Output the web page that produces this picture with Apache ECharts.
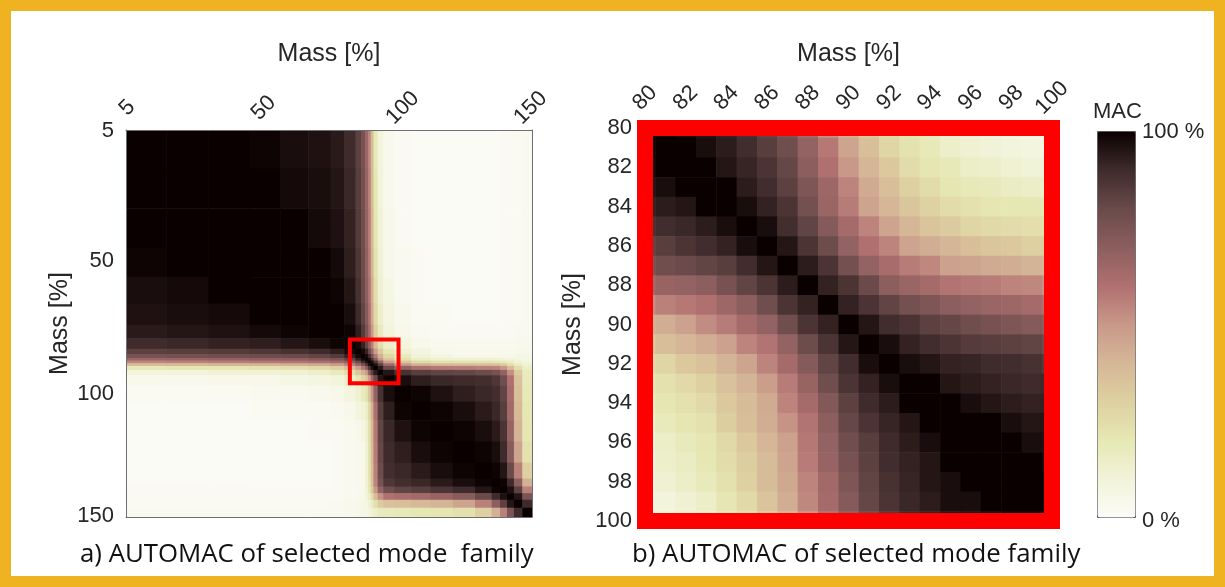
<!DOCTYPE html>
<html>
<head>
<meta charset="utf-8">
<script src="https://cdn.jsdelivr.net/npm/echarts@6/dist/echarts.min.js"></script>
<style>
  html, body { margin: 0; padding: 0; background: #fff; }
  #chart { width: 1225px; height: 587px; }
</style>
</head>
<body>
<div id="chart"></div>
<script>
// ---- colour scale (MAC 0 -> 1) ----
var macColors = ['#fcfcf8', '#f1f3d9', '#e6e8b4', '#ded0a0', '#d5b797', '#c89888',
                 '#b07070', '#8c5e5e', '#6a4a4a', '#3f2b2b', '#0a0000'];

// ---- a) full AUTOMAC, sampled in bands along the mode index (symmetric) ----
var leftTickPos = [1, 50, 100, 146];
var leftTickText = ['5', '50', '100', '150'];
var leftBandEdges = [0.5, 15, 30, 45, 56, 66, 74, 79, 83, 85, 86.5, 87.5, 88.5, 89.5, 91,
                     93, 97, 103, 110, 118, 126, 132, 135, 137.5, 140, 143, 146.5];
// upper triangle: row a holds the values for bands a..end
var leftMacUpper = [
  [1, 1, 1, .99, .97, .96, .94, .90, .83, .76, .66, .55, .38, .19, .09, .04, .02, .01, .01, .01, .01, .01, .02, .02, .02, .03],
  [1, 1, 1, .98, .97, .95, .91, .84, .77, .67, .56, .39, .20, .09, .04, .02, .01, .01, .01, .01, .01, .02, .02, .02, .03],
  [1, 1, 1, .98, .96, .92, .85, .78, .68, .57, .40, .21, .10, .05, .02, .01, .01, .01, .01, .01, .02, .02, .02, .03],
  [1, 1, 1, .98, .93, .86, .79, .69, .58, .41, .22, .11, .05, .03, .02, .01, .01, .01, .01, .02, .02, .02, .03],
  [1, 1, .99, .95, .88, .80, .70, .59, .43, .24, .12, .06, .03, .02, .01, .01, .01, .01, .02, .02, .02, .03],
  [1, 1, .97, .90, .82, .72, .61, .45, .26, .14, .07, .04, .02, .02, .01, .01, .01, .02, .02, .02, .03],
  [1, .99, .93, .85, .75, .64, .49, .30, .17, .09, .05, .03, .02, .02, .02, .02, .02, .02, .03, .03],
  [1, .98, .92, .82, .70, .56, .38, .24, .14, .08, .05, .03, .03, .03, .03, .03, .03, .04, .04],
  [1, .98, .92, .80, .66, .48, .33, .21, .12, .08, .05, .04, .04, .04, .04, .04, .05, .05],
  [1, .98, .90, .76, .58, .42, .28, .17, .10, .07, .05, .05, .05, .05, .05, .06, .06],
  [1, .97, .87, .70, .50, .34, .22, .15, .12, .11, .11, .11, .10, .09, .07, .06],
  [1, .97, .86, .68, .48, .34, .26, .23, .22, .22, .21, .19, .15, .11, .08],
  [1, .96, .83, .64, .50, .42, .39, .38, .37, .36, .32, .24, .16, .11],
  [1, .94, .80, .68, .61, .58, .57, .56, .55, .50, .38, .24, .14],
  [1, .95, .88, .84, .82, .81, .79, .76, .68, .52, .32, .17],
  [1, .97, .93, .91, .90, .89, .86, .78, .60, .36, .18],
  [1, .99, .96, .93, .91, .89, .82, .62, .37, .19],
  [1, .99, .97, .94, .91, .84, .64, .39, .20],
  [1, .99, .97, .94, .87, .67, .41, .21],
  [1, .99, .97, .90, .71, .46, .23],
  [1, .99, .95, .80, .56, .30],
  [1, .99, .90, .70, .42],
  [1, .96, .83, .56],
  [1, .95, .75],
  [1, .90],
  [1]
];
// red marker of the zoomed region, in mode-index units [x0, x1, y0, y1]
var leftZoomBox = [81, 98.5, 79.5, 96];

// ---- b) zoom 80 % .. 100 % ----
var zoomMass = [80, 81, 82, 83, 84, 85, 86, 87, 88, 89, 90, 91, 92, 93, 94, 95, 96, 97, 98, 99, 100];
var zoomMac = [
  [1, 1, .98, .95, .92, .88, .82, .75, .64, .52, .42, .32, .25, .20, .16, .12, .10, .08, .07, .06, .05],
  [1, 1, 1, .97, .935, .895, .84, .78, .68, .58, .46, .37, .28, .22, .19, .14, .12, .10, .09, .08, .07],
  [.98, 1, 1, 1, .95, .915, .87, .81, .70, .60, .50, .40, .33, .25, .21, .19, .15, .14, .12, .10, .10],
  [.95, .97, 1, 1, 1, .935, .895, .83, .74, .65, .55, .44, .37, .30, .25, .21, .19, .18, .16, .15, .13],
  [.92, .935, .95, 1, 1, .97, .92, .87, .77, .66, .57, .46, .40, .34, .29, .25, .23, .21, .20, .20, .18],
  [.88, .895, .91, .935, .97, 1, .97, .89, .82, .72, .63, .55, .46, .40, .35, .32, .28, .26, .25, .24, .23],
  [.82, .84, .87, .895, .92, .97, 1, .95, .87, .79, .68, .60, .55, .46, .43, .40, .37, .34, .33, .30, .31],
  [.75, .78, .80, .82, .84, .895, .95, 1, .935, .87, .77, .68, .62, .57, .54, .47, .46, .44, .43, .41, .40],
  [.64, .67, .68, .70, .76, .82, .87, .935, 1, .92, .87, .80, .70, .66, .63, .59, .58, .57, .55, .54, .51],
  [.52, .56, .58, .60, .65, .70, .78, .87, .92, 1, .92, .87, .82, .77, .74, .70, .68, .66, .65, .63, .60],
  [.42, .43, .47, .53, .57, .63, .68, .78, .87, .92, 1, .95, .895, .87, .83, .81, .78, .76, .74, .72, .70],
  [.32, .37, .40, .43, .47, .55, .59, .68, .79, .87, .95, 1, .97, .92, .895, .87, .85, .84, .83, .82, .79],
  [.25, .28, .33, .36, .41, .46, .55, .63, .72, .82, .895, .97, 1, .97, .95, .92, .915, .90, .895, .88, .85],
  [.20, .23, .26, .30, .36, .41, .48, .57, .67, .78, .87, .92, .97, 1, 1, .95, .935, .92, .91, .90, .90],
  [.16, .21, .23, .26, .33, .38, .44, .55, .63, .73, .83, .90, .935, 1, 1, 1, .97, .95, .935, .92, .92],
  [.12, .18, .21, .23, .31, .37, .43, .51, .59, .70, .81, .87, .915, .95, 1, 1, 1, 1, .97, .95, .95],
  [.10, .15, .18, .21, .26, .33, .40, .47, .58, .68, .78, .84, .90, .935, .97, 1, 1, 1, 1, .97, .96],
  [.08, .14, .16, .20, .25, .31, .38, .46, .57, .67, .76, .83, .895, .92, .95, 1, 1, 1, 1, 1, .98],
  [.07, .12, .15, .18, .23, .30, .38, .45, .55, .64, .74, .82, .88, .915, .95, .97, 1, 1, 1, 1, 1],
  [.06, .09, .12, .15, .21, .26, .35, .43, .54, .63, .72, .81, .87, .91, .935, .97, .97, 1, 1, 1, 1],
  [.05, .07, .10, .13, .18, .23, .31, .40, .51, .60, .70, .79, .85, .90, .92, .95, .96, .98, 1, 1, 1]
];
var zoomFrame = [80, 100, 80, 100];

// build cells: [x0, x1, y0, y1, mac]
var leftCells = [];
leftMacUpper.forEach(function (row, a) {
  row.forEach(function (v, k) {
    var b = a + k;
    leftCells.push([leftBandEdges[b], leftBandEdges[b + 1], leftBandEdges[a], leftBandEdges[a + 1], v]);
    if (b !== a) {
      leftCells.push([leftBandEdges[a], leftBandEdges[a + 1], leftBandEdges[b], leftBandEdges[b + 1], v]);
    }
  });
});
var zoomCells = [];
zoomMac.forEach(function (row, i) {
  row.forEach(function (v, j) {
    zoomCells.push([zoomMass[j] - 0.5, zoomMass[j] + 0.5, zoomMass[i] - 0.5, zoomMass[i] + 0.5, v]);
  });
});

function renderCell(params, api) {
  var p0 = api.coord([api.value(0), api.value(2)]);
  var p1 = api.coord([api.value(1), api.value(3)]);
  return {
    type: 'rect',
    shape: {
      x: Math.min(p0[0], p1[0]), y: Math.min(p0[1], p1[1]),
      width: Math.abs(p1[0] - p0[0]) + 0.6, height: Math.abs(p1[1] - p0[1]) + 0.6
    },
    style: { fill: api.visual('color') }
  };
}
function renderFrame(width) {
  return function (params, api) {
    var p0 = api.coord([api.value(0), api.value(2)]);
    var p1 = api.coord([api.value(1), api.value(3)]);
    return {
      type: 'rect',
      shape: { x: p0[0], y: p0[1], width: p1[0] - p0[0], height: p1[1] - p0[1] },
      style: { fill: null, stroke: '#ff0000', lineWidth: width }
    };
  };
}

var axisFont = 'Liberation Sans, Arial, sans-serif';
var labelStyle = { color: '#262626', fontSize: 22, fontFamily: axisFont };
var nameStyle = { color: '#262626', fontSize: 25, fontFamily: axisFont };
var boxLine = { show: true, lineStyle: { color: '#6e6e6e', width: 1 } };

var chart = echarts.init(document.getElementById('chart'));
chart.setOption({
  backgroundColor: '#fff',
  animation: false,
  grid: [
    { left: 126, top: 130, width: 406, height: 387 },
    { left: 645, top: 128, width: 407, height: 393 }
  ],
  xAxis: [
    {
      type: 'value', gridIndex: 0, position: 'top', min: 0.5, max: 146.5, z: 10,
      name: 'Mass [%]', nameLocation: 'middle', nameGap: 63, nameMoveOverlap: false,
      nameTextStyle: nameStyle,
      axisLine: boxLine, axisTick: { show: false }, splitLine: { show: false },
      axisLabel: Object.assign({
        customValues: leftTickPos, rotate: -45, margin: 22, align: 'center', verticalAlign: 'middle',
        formatter: function (v) { return leftTickText[leftTickPos.indexOf(v)]; }
      }, labelStyle)
    },
    {
      type: 'value', gridIndex: 0, position: 'bottom', min: 0.5, max: 146.5, z: 10,
      axisLine: boxLine, axisTick: { show: false }, axisLabel: { show: false }, splitLine: { show: false }
    },
    {
      type: 'value', gridIndex: 1, position: 'top', min: 80, max: 100, interval: 2,
      name: 'Mass [%]', nameLocation: 'middle', nameGap: 61, nameMoveOverlap: false,
      nameTextStyle: nameStyle,
      axisLine: { show: false }, axisTick: { show: false }, splitLine: { show: false },
      axisLabel: Object.assign({
        rotate: -45, margin: 30, align: 'center', verticalAlign: 'middle'
      }, labelStyle)
    }
  ],
  yAxis: [
    {
      type: 'value', gridIndex: 0, inverse: true, min: 0.5, max: 146.5, z: 10,
      name: 'Mass [%]', nameLocation: 'middle', nameGap: 53, nameRotate: 90, nameMoveOverlap: false,
      nameTextStyle: nameStyle,
      axisLine: boxLine, axisTick: { show: false }, splitLine: { show: false },
      axisLabel: Object.assign({
        customValues: leftTickPos, margin: 12,
        formatter: function (v) { return leftTickText[leftTickPos.indexOf(v)]; }
      }, labelStyle)
    },
    {
      type: 'value', gridIndex: 0, position: 'right', inverse: true, min: 0.5, max: 146.5, z: 10,
      axisLine: boxLine, axisTick: { show: false }, axisLabel: { show: false }, splitLine: { show: false }
    },
    {
      type: 'value', gridIndex: 1, inverse: true, min: 80, max: 100, interval: 2,
      name: 'Mass [%]', nameLocation: 'middle', nameGap: 59, nameRotate: 90, nameMoveOverlap: false,
      nameTextStyle: nameStyle,
      axisLine: { show: false }, axisTick: { show: false }, splitLine: { show: false },
      axisLabel: Object.assign({ margin: 13 }, labelStyle)
    }
  ],
  visualMap: {
    type: 'continuous', min: 0, max: 1, dimension: 4, seriesIndex: [0, 1],
    calculable: false, orient: 'vertical', left: 1097, top: 131,
    itemWidth: 38, itemHeight: 386, padding: 0, text: null,
    borderColor: '#555', borderWidth: 1,
    inRange: { color: macColors }
  },
  graphic: [
    { type: 'rect', shape: { x: 5.5, y: 5.5, width: 1214, height: 576 },
      style: { fill: null, stroke: '#efb321', lineWidth: 11 }, z: 100 },
    { type: 'text', left: 1093, top: 101,
      style: { text: 'MAC', fill: '#262626', font: '22px ' + axisFont } },
    { type: 'text', left: 1142, top: 121,
      style: { text: '100 %', fill: '#262626', font: '22px ' + axisFont } },
    { type: 'text', left: 1142, top: 510,
      style: { text: '0 %', fill: '#262626', font: '22px ' + axisFont } },
    { type: 'text', left: 80, top: 542,
      style: { text: 'a) AUTOMAC of selected mode  family', fill: '#111', font: '25.8px "Open Sans", sans-serif' } },
    { type: 'text', left: 632, top: 542,
      style: { text: 'b) AUTOMAC of selected mode family', fill: '#111', font: '25.8px "Open Sans", sans-serif' } }
  ],
  series: [
    {
      type: 'custom', name: 'AUTOMAC', xAxisIndex: 0, yAxisIndex: 0, clip: true,
      renderItem: renderCell, encode: { x: [0, 1], y: [2, 3] }, data: leftCells
    },
    {
      type: 'custom', name: 'AUTOMAC zoom', xAxisIndex: 2, yAxisIndex: 2, clip: true,
      renderItem: renderCell, encode: { x: [0, 1], y: [2, 3] }, data: zoomCells
    },
    {
      type: 'custom', xAxisIndex: 0, yAxisIndex: 0, z: 5, clip: false,
      renderItem: renderFrame(4), data: [leftZoomBox]
    },
    {
      type: 'custom', xAxisIndex: 2, yAxisIndex: 2, z: 5, clip: false,
      renderItem: renderFrame(16), data: [zoomFrame]
    }
  ]
});
</script>
</body>
</html>
